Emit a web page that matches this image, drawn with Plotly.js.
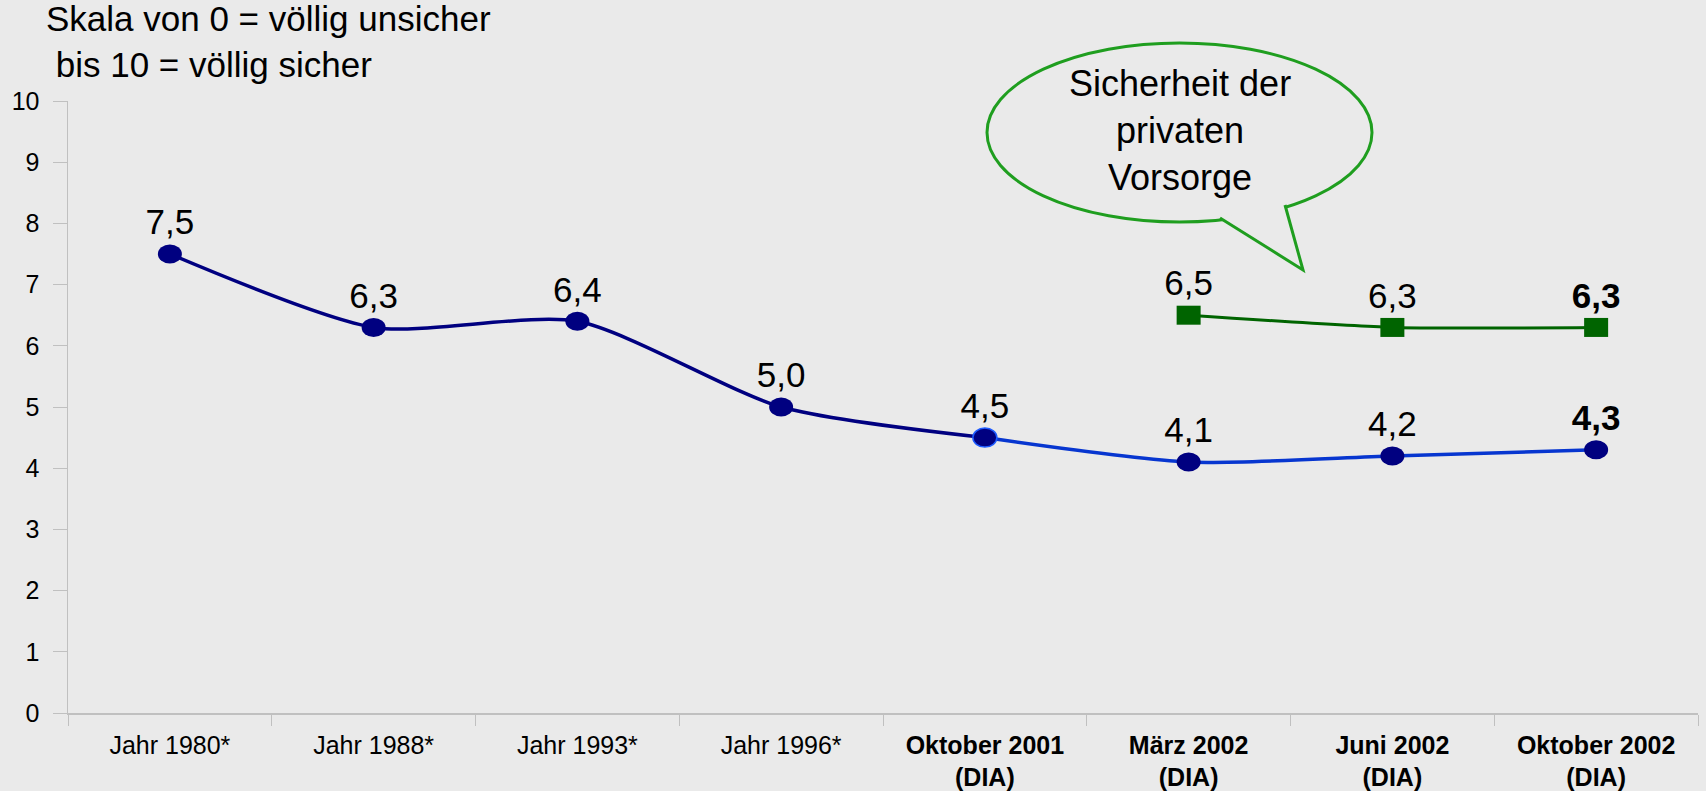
<!DOCTYPE html>
<html>
<head>
<meta charset="utf-8">
<script src="https://cdn.plot.ly/plotly-3.0.1.min.js"></script>
<style>
  html, body { margin: 0; padding: 0; background: #eaeaea; }
  #chart { width: 1706px; height: 791px; }
</style>
</head>
<body>
<div id="chart"></div>
<script>
// ---- data ----
const categories = ['Jahr 1980*', 'Jahr 1988*', 'Jahr 1993*', 'Jahr 1996*',
                    'Oktober 2001 (DIA)', 'März 2002 (DIA)', 'Juni 2002 (DIA)', 'Oktober 2002 (DIA)'];
const tickLabels = ['Jahr 1980*', 'Jahr 1988*', 'Jahr 1993*', 'Jahr 1996*',
                    '<b>Oktober 2001<br>(DIA)</b>', '<b>März 2002<br>(DIA)</b>',
                    '<b>Juni 2002<br>(DIA)</b>', '<b>Oktober 2002<br>(DIA)</b>'];
const gesetzlich = [7.5, 6.3, 6.4, 5.0, 4.5, 4.1, 4.2, 4.3];     // blue series
const privat = [null, null, null, null, null, 6.5, 6.3, 6.3];     // green series
const boldLast = true;

// ---- helpers ----
const fmt = v => v.toFixed(1).replace('.', ',');
function labels(arr) {
  const lastIdx = arr.length - 1;
  return arr.map((v, i) => v === null ? '' : (boldLast && i === lastIdx ? '<b>' + fmt(v) + '</b>' : fmt(v)));
}
// pixel -> paper for decorative callout (plot area 68..1698 x, 713..101 y)
const L = 68, R = 8, T = 101, B = 78, W = 1706, H = 791;
const PX = x => (x - L) / (W - L - R);
const PY = y => (H - B - y) / (H - B - T);

const FONT = 'Liberation Sans, Arial, Helvetica, sans-serif';
const NAVY = '#000080', BLUE = '#0736d0', GREEN = '#006400', CALLOUT = '#1f9e1f', BG = '#eaeaea';

// blue line split in navy (up to Oktober 2001) and bright blue (from Oktober 2001)
const split = 4;
const traces = [
  {
    x: categories.slice(0, split + 1), y: gesetzlich.slice(0, split + 1),
    mode: 'lines', line: {color: NAVY, width: 3.5, shape: 'spline', smoothing: 0.7},
    hoverinfo: 'skip', showlegend: false
  },
  {
    x: categories.slice(split), y: gesetzlich.slice(split),
    mode: 'lines', line: {color: BLUE, width: 3.5, shape: 'spline', smoothing: 0.7},
    hoverinfo: 'skip', showlegend: false
  },
  {
    x: categories, y: privat, connectgaps: false,
    mode: 'lines', line: {color: GREEN, width: 3, shape: 'spline', smoothing: 0.6},
    hoverinfo: 'skip', showlegend: false
  },
  {
    x: categories, y: gesetzlich, mode: 'markers+text',
    marker: {size: 16, color: 'rgba(0,0,0,0)'},
    text: labels(gesetzlich), textposition: 'top center',
    textfont: {family: FONT, size: 35, color: '#000'},
    cliponaxis: false, showlegend: false, hoverinfo: 'skip'
  },
  {
    x: categories, y: privat, mode: 'markers+text',
    marker: {size: 16, color: 'rgba(0,0,0,0)'},
    text: labels(privat), textposition: 'top center',
    textfont: {family: FONT, size: 35, color: '#000'},
    cliponaxis: false, showlegend: false, hoverinfo: 'skip'
  }
];

// markers as ellipses / rectangles anchored to data values
const shapes = [];
gesetzlich.forEach((v, i) => {
  if (v === null) return;
  shapes.push({
    type: 'circle', xref: 'x', yref: 'y', xsizemode: 'pixel', ysizemode: 'pixel',
    xanchor: i, yanchor: v, x0: -12, x1: 12, y0: -9.5, y1: 9.5,
    fillcolor: NAVY, line: {width: i === split ? 1.5 : 0, color: '#1e5bff'}, layer: 'above'
  });
});
privat.forEach((v, i) => {
  if (v === null) return;
  shapes.push({
    type: 'rect', xref: 'x', yref: 'y', xsizemode: 'pixel', ysizemode: 'pixel',
    xanchor: i, yanchor: v, x0: -12, x1: 12, y0: -9.5, y1: 9.5,
    fillcolor: GREEN, line: {width: 0}, layer: 'above'
  });
});
// speech bubble
shapes.push({
  type: 'circle', xref: 'paper', yref: 'paper',
  x0: PX(987), x1: PX(1372), y0: PY(222), y1: PY(43),
  line: {color: CALLOUT, width: 3}, fillcolor: 'rgba(0,0,0,0)', layer: 'above'
});
shapes.push({
  type: 'path', xref: 'paper', yref: 'paper',
  path: `M ${PX(1220)} ${PY(218)} L ${PX(1303)} ${PY(270)} L ${PX(1285)} ${PY(205)}`,
  line: {color: CALLOUT, width: 3}, fillcolor: BG, layer: 'above'
});

const annotations = [
  {xref: 'paper', yref: 'paper', x: PX(44), y: PY(42), xanchor: 'left', yanchor: 'middle',
   text: 'Skala von 0 = völlig unsicher<br>\u00a0bis 10 = völlig sicher', align: 'left', showarrow: false,
   font: {family: FONT, size: 35, color: '#000'}},
  {xref: 'paper', yref: 'paper', x: PX(1180), y: PY(130), xanchor: 'center', yanchor: 'middle',
   text: 'Sicherheit der<br>privaten<br>Vorsorge', align: 'center', showarrow: false,
   font: {family: FONT, size: 36, color: '#000'}}
];

const layout = {
  width: W, height: H, autosize: false,
  margin: {l: L, r: R, t: T, b: B, pad: 0},
  paper_bgcolor: BG, plot_bgcolor: BG,
  showlegend: false,
  xaxis: {
    type: 'category', categoryorder: 'array', categoryarray: categories,
    range: [-0.5, categories.length - 0.5],
    tickmode: 'array', tickvals: categories, ticktext: tickLabels,
    tickson: 'boundaries', ticks: 'outside', ticklen: 11, tickwidth: 1, tickcolor: '#c0c0c0',
    showline: true, linecolor: '#c0c0c0', linewidth: 1.5,
    showgrid: false, zeroline: false, ticklabelstandoff: 9,
    tickfont: {family: FONT, size: 25, color: '#000'}
  },
  yaxis: {
    range: [0, 10], tickmode: 'linear', tick0: 0, dtick: 1,
    ticks: 'outside', ticklen: 14, tickwidth: 1, tickcolor: '#c0c0c0',
    showline: true, linecolor: '#c0c0c0', linewidth: 1.5,
    showgrid: false, zeroline: false, ticklabelstandoff: 8,
    tickfont: {family: FONT, size: 25, color: '#000'}
  },
  shapes: shapes,
  annotations: annotations
};

Plotly.newPlot('chart', traces, layout, {displayModeBar: false, staticPlot: true});
</script>
</body>
</html>
